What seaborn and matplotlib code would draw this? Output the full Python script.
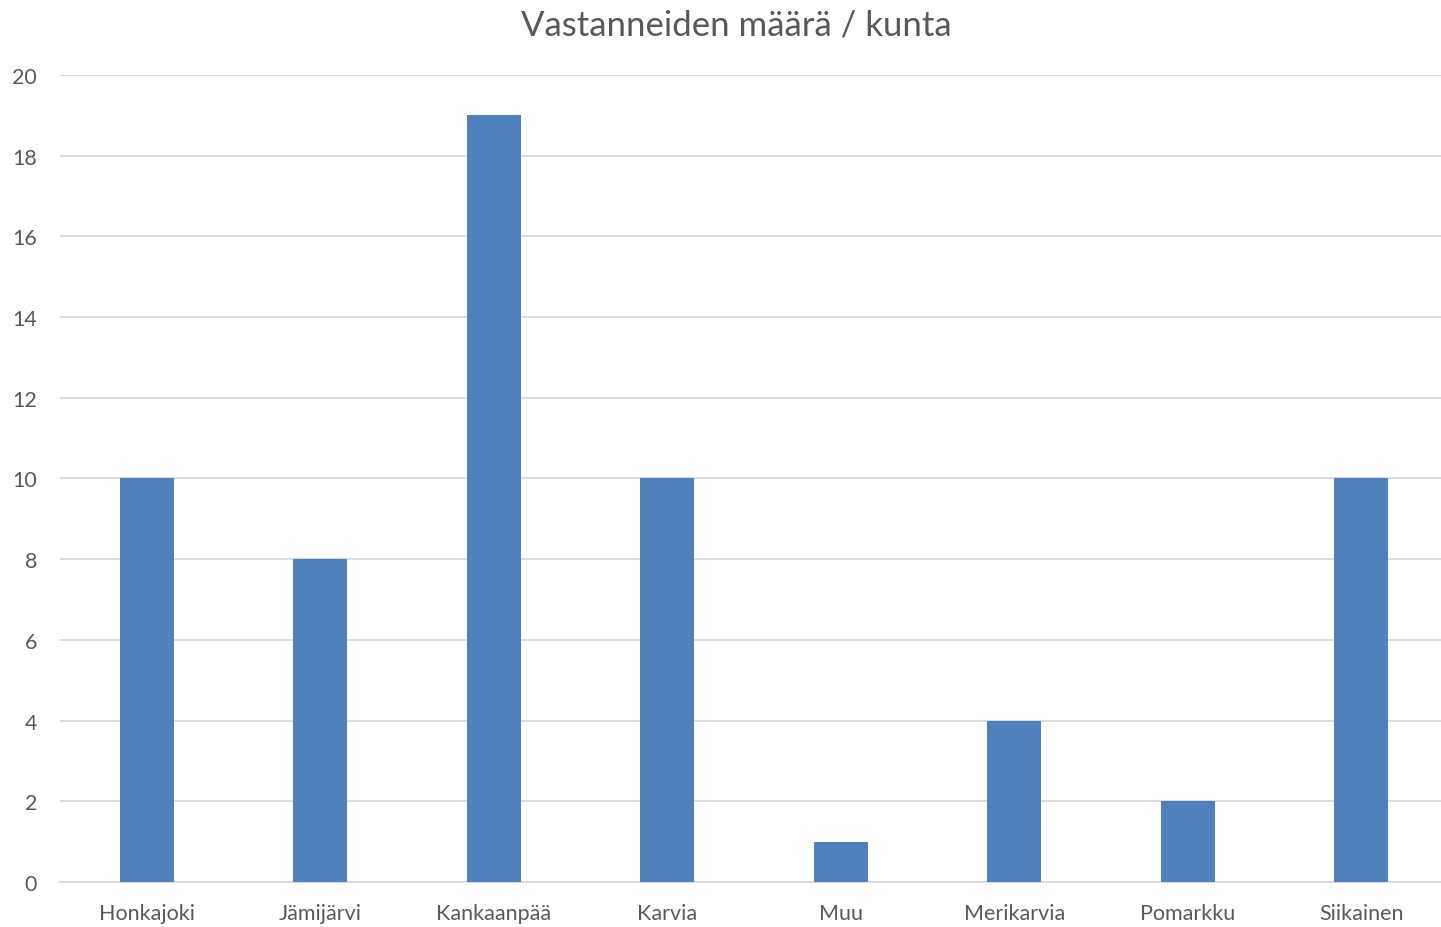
import matplotlib
matplotlib.use("Agg")
import matplotlib.pyplot as plt
import seaborn as sns
import pandas as pd

# data
kunnat = ["Honkajoki", "Jämijärvi", "Kankaanpää", "Karvia", "Muu",
          "Merikarvia", "Pomarkku", "Siikainen"]
vastanneet = [10, 8, 19, 10, 1, 4, 2, 10]
y_ticks = [0, 2, 4, 6, 8, 10, 12, 14, 16, 18, 20]

df = pd.DataFrame({"kunta": kunnat, "vastanneet": vastanneet})

sns.set_theme(style="white")
plt.rcParams["font.family"] = ["Lato", "DejaVu Sans"]

text_col = "#595959"
fig = plt.figure(figsize=(14.41, 9.28), dpi=100)
ax = fig.add_axes([0.0416, 0.0485, 0.9584, 0.8696])

sns.barplot(data=df, x="kunta", y="vastanneet", color="#4F81BD",
            width=0.31, saturation=1, linewidth=0, ax=ax, zorder=3)

ax.set_ylim(0, 20)
ax.set_xlim(-0.5, 7.46)
ax.set_yticks(y_ticks)
ax.yaxis.grid(True, color="#D9D9D9", linewidth=1.3, zorder=0)
ax.set_axisbelow(True)
for s in ["top", "right", "left"]:
    ax.spines[s].set_visible(False)
ax.spines["bottom"].set_color("#D9D9D9")
ax.spines["bottom"].set_linewidth(1.3)
ax.tick_params(axis="both", length=0, labelsize=15.5, colors=text_col)
ax.tick_params(axis="x", pad=15)
ax.tick_params(axis="y", pad=16.5)
ax.set_xlabel("")
ax.set_ylabel("")

fig.suptitle("Vastanneiden määrä / kunta", fontsize=25, color=text_col,
             x=0.511, y=0.99, va="top")

fig.savefig("out.png", dpi=100)
